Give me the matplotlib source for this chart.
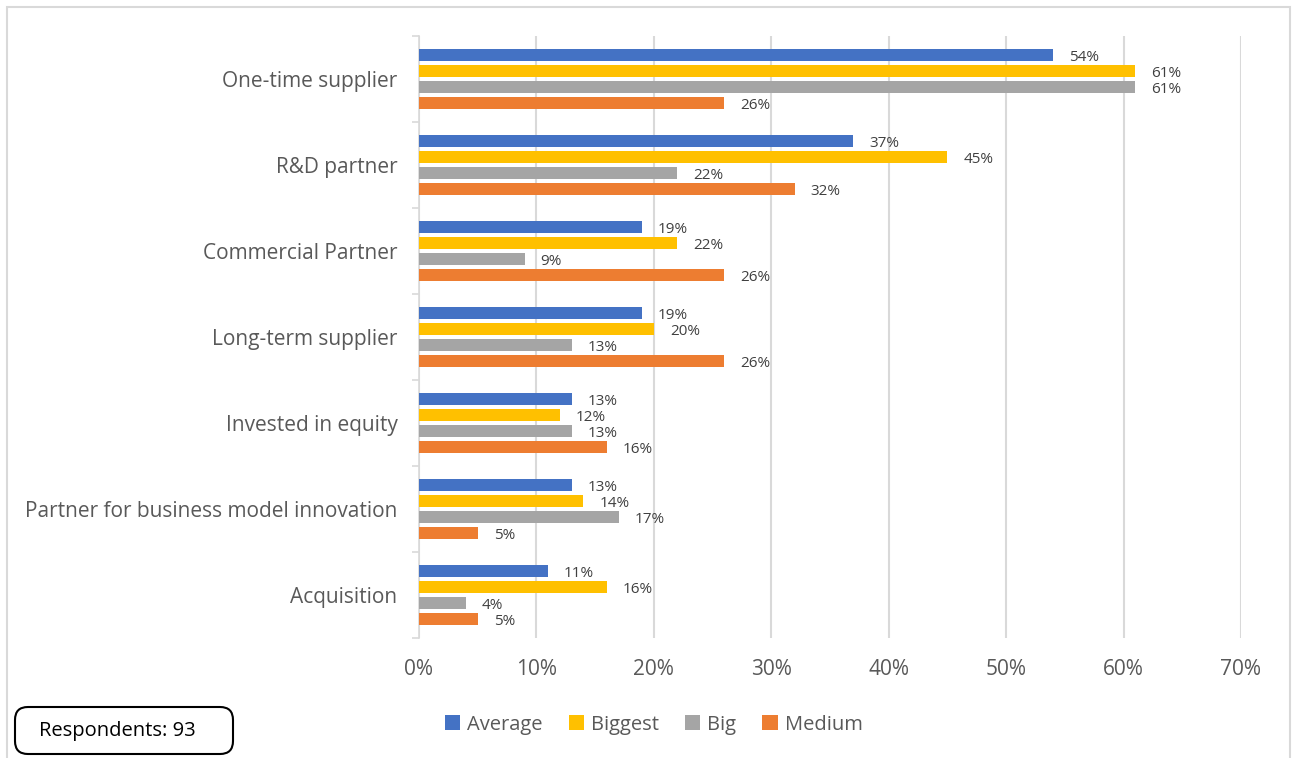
import matplotlib.pyplot as plt
import numpy as np
from matplotlib.patches import FancyBboxPatch, Rectangle
from matplotlib.ticker import FuncFormatter

categories = [
    "One-time supplier",
    "R&D partner",
    "Commercial Partner",
    "Long-term supplier",
    "Invested in equity",
    "Partner for business model innovation",
    "Acquisition",
]
series_names = ["Average", "Biggest", "Big", "Medium"]
average = [54, 37, 19, 19, 13, 13, 11]
biggest = [61, 45, 22, 20, 12, 14, 16]
big = [61, 22, 9, 13, 13, 17, 4]
medium = [26, 32, 26, 26, 16, 5, 5]
respondents = 93

colors = ["#4472C4", "#FFC000", "#A5A5A5", "#ED7D31"]
text_color = "#595959"
label_color = "#404040"
grid_color = "#D9D9D9"

plt.rcParams["font.family"] = ["Open Sans", "DejaVu Sans"]

fig = plt.figure(figsize=(12.92, 7.58), dpi=100)
ax = fig.add_axes([0.3243, 0.1583, 0.6362, 0.7942])

y = np.arange(len(categories))
slot = 0.186
bar_h = 0.13
for i, (name, vals, c) in enumerate(zip(series_names, [average, biggest, big, medium], colors)):
    pos = y + (i - 1.5) * slot
    ax.barh(pos, vals, height=bar_h, color=c, label=name, zorder=3)
    for p, v in zip(pos, vals):
        ax.annotate(f"{v}%", (v, p), xytext=(11.5, -1.5), textcoords="offset points",
                    ha="left", va="center", fontsize=11, color=label_color)

ax.set_xlim(0, 70)
ax.set_ylim(len(categories) - 0.5, -0.5)
ax.set_xticks(np.arange(0, 71, 10))
ax.xaxis.set_major_formatter(FuncFormatter(lambda v, _: f"{v:.0f}%"))
ax.set_yticks(y)
ax.set_yticklabels(categories)
ax.set_yticks(np.arange(-0.5, len(categories), 1), minor=True)
ax.tick_params(axis="y", which="major", length=0, pad=15.5, labelsize=15, labelcolor=text_color)
ax.tick_params(axis="y", which="minor", length=5, width=1.2, color=grid_color)
ax.tick_params(axis="x", length=0, pad=15, labelsize=15, labelcolor=text_color)

ax.grid(axis="x", color=grid_color, linewidth=1.5, zorder=0)
ax.set_axisbelow(True)
for side in ["top", "right", "bottom"]:
    ax.spines[side].set_visible(False)
ax.spines["left"].set_color(grid_color)
ax.spines["left"].set_linewidth(1.2)

fig.legend(loc="center", bbox_to_anchor=(0.506, 0.044), ncol=4, frameon=False,
           fontsize=14.5, labelcolor=text_color, handlelength=0.75, handleheight=0.75,
           handletextpad=0.35, columnspacing=1.3)

# chart border
fig.add_artist(Rectangle((7 / 1292, -0.01), 1283 / 1292, 1 - 7 / 758 + 0.01,
                         transform=fig.transFigure, fill=False, edgecolor=grid_color,
                         linewidth=1.5))

# respondents box
fig.add_artist(FancyBboxPatch((15 / 1292, 4 / 758), 218 / 1292, 47 / 758,
                              boxstyle="round,pad=0,rounding_size=0.01",
                              transform=fig.transFigure, fill=True, facecolor="white",
                              edgecolor="black", linewidth=1.5, mutation_aspect=1292 / 758))
fig.text(117 / 1292, 27 / 758, f"Respondents: {respondents}", ha="center", va="center",
         fontsize=14.5, color="black")

fig.savefig("out.png", dpi=100)
